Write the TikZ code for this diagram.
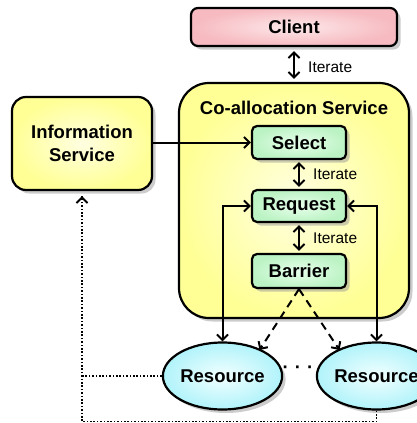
\documentclass[tikz,border=0pt]{standalone}
\usepackage{fontspec}
\setmainfont{Liberation Sans}
\usetikzlibrary{shapes.geometric,shadows,arrows.meta,calc}
\definecolor{pinkO}{RGB}{246,186,192}
\definecolor{pinkI}{RGB}{253,232,234}
\definecolor{yelO}{RGB}{255,255,150}
\definecolor{yelI}{RGB}{255,255,225}
\definecolor{grnO}{RGB}{188,243,196}
\definecolor{grnI}{RGB}{232,255,236}
\definecolor{cyaO}{RGB}{176,243,250}
\definecolor{cyaI}{RGB}{242,255,255}
\begin{document}
\begin{tikzpicture}[x=1pt,y=-1pt,
  >={Straight Barb[length=5.5pt,width=11pt,line width=2pt]},
  shadowed/.style={drop shadow={shadow xshift=3.5pt,shadow yshift=-3.5pt,fill=black!40,opacity=0.5}},
  box/.style={draw=black,line width=2.2pt,align=center,inner sep=0pt,shadowed,
    font=\bfseries\fontsize{18.5}{23}\selectfont},
  pinkbox/.style={box,rectangle,rounded corners=7pt,inner color=pinkI,outer color=pinkO},
  yelbox/.style={box,rectangle,inner color=yelI,outer color=yelO},
  grnbox/.style={box,rectangle,rounded corners=5pt,inner color=grnI,outer color=grnO,
    minimum width=94pt},
  resbox/.style={box,ellipse,inner color=cyaI,outer color=cyaO,minimum width=101pt,minimum height=67pt},
  lbl/.style={anchor=west,inner sep=0pt,font=\fontsize{15.5}{18}\selectfont},
  conn/.style={line width=2pt,draw=black},
  dashconn/.style={conn,dash pattern=on 8pt off 5.5pt},
  dotconn/.style={line width=1.8pt,draw=black,dash pattern=on 1.6pt off 1.8pt}
]
\useasboundingbox (0,0) rectangle (417,423);
\node[pinkbox,minimum width=206pt,minimum height=38pt] (client) at (294,27) {Client};
\node[yelbox,rounded corners=30pt,minimum width=230pt,minimum height=235pt] (coalloc) at (294,200.5) {};
\node[inner sep=0pt,font=\bfseries\fontsize{18.5}{23}\selectfont] (title) at (294,108) {Co-allocation Service};
\node[yelbox,rounded corners=14pt,minimum width=140pt,minimum height=93pt] (info) at (82,143.5) {Information\\Service};
\node[grnbox,minimum height=33pt] (select) at (299,142.5) {Select};
\node[grnbox,minimum height=32pt] (request) at (299,206) {Request};
\node[grnbox,minimum height=34pt] (barrier) at (299,271) {Barrier};
\node[resbox] (res1) at (222.5,376) {Resource};
\node[resbox] (res2) at (376.5,376) {Resource};
\node[inner sep=0pt,font=\bfseries\fontsize{18.5}{23}\selectfont] (dots) at (298,370) {·\,\,·\,\,·};

\draw[conn,<->] ([yshift=-4pt]client.south) -- ([yshift=3pt]coalloc.north);
\node[lbl] (it1) at (308,67) {Iterate};
\draw[conn,<->] ([yshift=-2pt]select.south) -- ([yshift=2pt]request.north);
\node[lbl] (it2) at (313,174) {Iterate};
\draw[conn,<->] ([yshift=-2pt]request.south) -- ([yshift=2pt]barrier.north);
\node[lbl] (it3) at (313,238) {Iterate};

\draw[conn,->] (info.east |- select.west) -- (select.west);
\draw[conn,<->] (res1.north) |- (request.west);
\draw[conn,<->] (res2.north) |- (request.east);

\draw[dashconn,->] (barrier.south) -- ([xshift=37pt,yshift=26pt]res1.center);
\draw[dashconn,->] (barrier.south) -- ([xshift=-37pt,yshift=26pt]res2.center);

\coordinate (bot) at (0,421.5);
\draw[dotconn] (res2.south) |- (bot -| info.south) -- ([yshift=-5pt]info.south);
\draw[line width=1.8pt,->] ([yshift=-9pt]info.south) -- ([yshift=-5pt]info.south);
\draw[dotconn] (res1.west) -- (res1.west -| info.south);
\end{tikzpicture}
\end{document}
